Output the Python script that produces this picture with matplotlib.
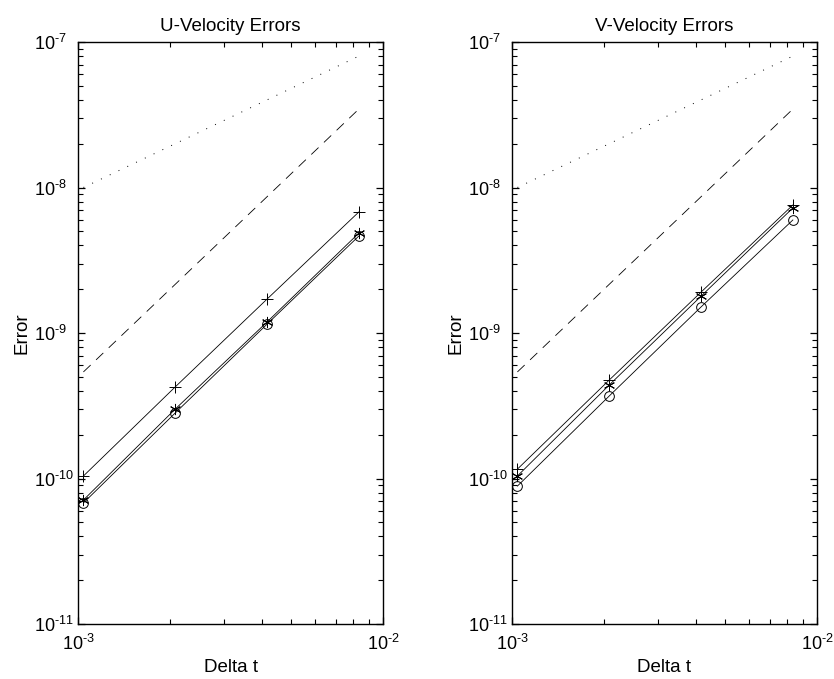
import numpy as np
import matplotlib
matplotlib.use('Agg')
import matplotlib.pyplot as plt
from matplotlib.ticker import FixedLocator, NullFormatter, FuncFormatter

plt.rcParams['font.family'] = ['Liberation Sans', 'DejaVu Sans']
plt.rcParams['mathtext.fontset'] = 'custom'
plt.rcParams['mathtext.rm'] = 'Liberation Sans'
plt.rcParams['mathtext.it'] = 'Liberation Sans'

# time steps
dt = [1/960, 1/480, 1/240, 1/120]

# reference slopes (first and second order)
ref1 = [1.0e-8, 2.0e-8, 4.0e-8, 8.0e-8]
ref2 = [5.4e-10, 2.16e-9, 8.64e-9, 3.46e-8]

# U-velocity errors
u_plus = [1.04e-10, 4.26e-10, 1.71e-9, 6.79e-9]
u_star = [7.11e-11, 3.00e-10, 1.19e-9, 4.86e-9]
u_circ = [6.79e-11, 2.82e-10, 1.15e-9, 4.64e-9]

# V-velocity errors
v_plus = [1.16e-10, 4.75e-10, 1.91e-9, 7.58e-9]
v_star = [1.04e-10, 4.39e-10, 1.79e-9, 7.23e-9]
v_circ = [8.87e-11, 3.69e-10, 1.51e-9, 5.98e-9]

titles = ['U-Velocity Errors', 'V-Velocity Errors']
series = [(u_plus, u_star, u_circ), (v_plus, v_star, v_circ)]

xmajor = [1e-3, 1e-2]
ymajor = [1e-11, 1e-10, 1e-9, 1e-8, 1e-7]


def powfmt(v, pos):
	e = int(round(np.log10(v)))
	if e < 0:
		return r'$10^{\text{-}%d}$' % (-e)
	return r'$10^{%d}$' % e


def minors(lo, hi):
	out = []
	for d in range(lo, hi):
		for m in range(2, 10):
			out.append(m * 10.0**d)
	return out


fig = plt.figure(figsize=(8.34, 6.79), dpi=100)
lefts = [78/834, 512/834]
W = 305/834
B = 1 - 624/679
H = 582/679

for i in range(2):
	ax = fig.add_axes([lefts[i], B, W, H])
	p, s, c = series[i]
	ax.loglog(dt, ref1, color='k', linestyle=(0, (1, 9)), linewidth=0.7)
	ax.loglog(dt, ref2, color='k', linestyle=(0, (12, 9)), linewidth=0.6)
	ax.loglog(dt, p, color='k', marker='+', markersize=8, linewidth=0.6, markeredgewidth=0.7)
	ax.loglog(dt, s, color='k', marker=(6, 2, 0), markersize=8, linewidth=0.6, markeredgewidth=0.7)
	ax.loglog(dt, c, color='k', marker='o', markersize=7, markerfacecolor='none', linewidth=0.6, markeredgewidth=0.7)

	ax.set_xlim(1e-3, 1e-2)
	ax.set_ylim(1e-11, 1e-7)
	ax.xaxis.set_major_locator(FixedLocator(xmajor))
	ax.yaxis.set_major_locator(FixedLocator(ymajor))
	ax.xaxis.set_minor_locator(FixedLocator(minors(-3, -2)))
	ax.yaxis.set_minor_locator(FixedLocator(minors(-11, -7)))
	ax.xaxis.set_major_formatter(FuncFormatter(powfmt))
	ax.yaxis.set_major_formatter(FuncFormatter(powfmt))
	ax.xaxis.set_minor_formatter(NullFormatter())
	ax.yaxis.set_minor_formatter(NullFormatter())
	ax.tick_params(which='both', direction='in', top=True, right=True, labelsize=13, colors='k')
	ax.tick_params(which='major', length=5, width=0.9)
	ax.tick_params(which='minor', length=3.5, width=0.8)
	ax.tick_params(axis='x', pad=7)
	ax.tick_params(axis='y', pad=32)
	for lab in ax.get_yticklabels():
		lab.set_horizontalalignment('left')
	for sp in ax.spines.values():
		sp.set_linewidth(1.0)

	ax.set_title(titles[i], fontsize=13.5, pad=8)
	ax.set_xlabel('Delta t', fontsize=13.5, labelpad=4)
	ax.set_ylabel('Error', fontsize=13.5, labelpad=2)

fig.savefig('out.png', dpi=100, facecolor='white')
